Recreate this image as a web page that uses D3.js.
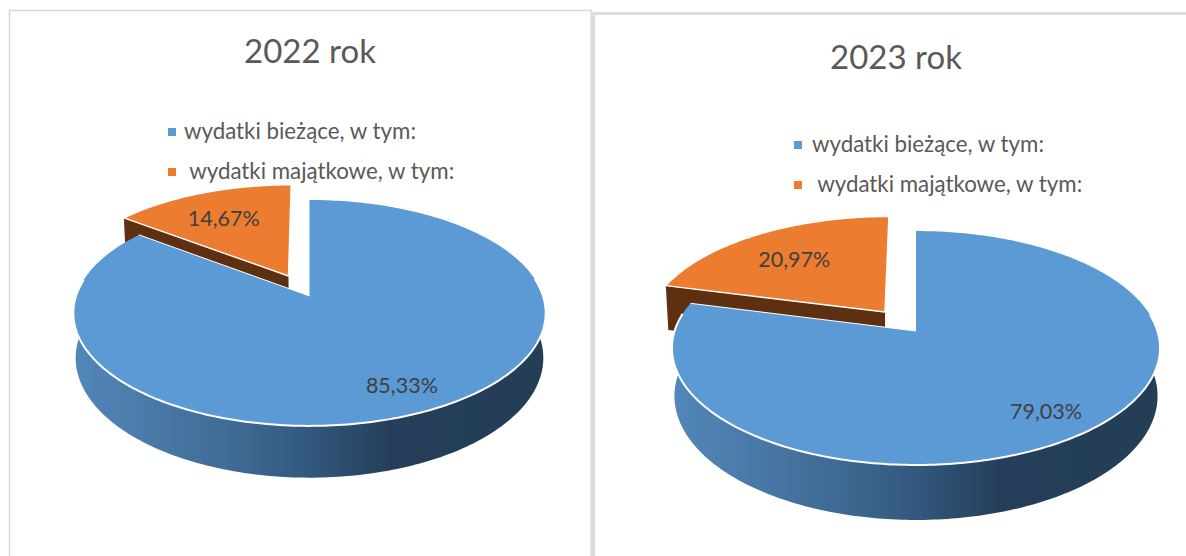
<!DOCTYPE html>
<html><head><meta charset="utf-8">
<script src="https://cdn.jsdelivr.net/npm/d3@7/dist/d3.min.js"></script>
<style>html,body{margin:0;padding:0;background:#fff;overflow:hidden}svg{display:block}text{font-family:Lato,"Open Sans",sans-serif}</style>
</head><body><svg id="c" width="1186" height="556"></svg>
<script>
const categories = ["wydatki bieżące, w tym:", " wydatki majątkowe, w tym:"];
const chartTitles = ["2022 rok", "2023 rok"];
const values2022 = [85.33, 14.67];
const values2023 = [79.03, 20.97];
const percentLabels2022 = ["85,33%", "14,67%"];
const percentLabels2023 = ["79,03%", "20,97%"];

const colors = ["#5b9ad5", "#eb7c30"];
const layouts = [
  {values: values2022, labels: percentLabels2022, title: chartTitles[0],
   cx: 309.5, apexY: 296, a: -66, k: -0.15, A: 233.5, h: 44, burst: 0.208,
   titleX: 310, titleY: 63, legX: 168, legTextX: 184, legY: [132, 172], labelF: [0.81, 0.66], labelDx: [-2, -5]},
  {values: values2023, labels: percentLabels2023, title: chartTitles[1],
   cx: 916, apexY: 331, a: -66.4, k: -0.1453, A: 241.4, h: 47, burst: 0.215,
   titleX: 896, titleY: 69, legX: 794, legTextX: 812, legY: [145, 185], labelF: [0.81, 0.646], labelDx: [-2, -6]}
];

const svg = d3.select("#c");
const defs = svg.append("defs");

// panels
svg.append("path").attr("d", "M9.5 556V10.5H591V556").attr("fill", "none").attr("stroke", "#d9d9d9").attr("stroke-width", 1.5);
svg.append("path").attr("d", "M593.5 556V13.5H1186").attr("fill", "none").attr("stroke", "#dcdcdc").attr("stroke-width", 3);

const pie = d3.pie().sort(null).startAngle(0).endAngle(2 * Math.PI);
const line = d3.line();

layouts.forEach((L, li) => {
  const g = svg.append("g");
  // perspective projection of the pie plane: (u,v) unit disk to screen
  const project = (u, v) => {
    const den = 1 - L.k * v;
    return [L.cx + L.A * u / den, (L.apexY + L.a * v) / den];
  };
  const lower = (u, v) => {
    const den = 1 - L.k * v;
    const p = project(u, v);
    return [L.cx + (p[0] - L.cx) * 0.99, p[1] + L.h / den];
  };
  const arcs = pie(L.values);
  const bis = arcs.map(d => (d.startAngle + d.endAngle) / 2);
  // slice 1 is exploded along its bisector
  const off = arcs.map((d, i) => i === 1
    ? [L.burst * Math.sin(bis[i]), L.burst * Math.cos(bis[i])] : [0, 0]);
  const rimUV = (d, i, n = 160) => d3.range(n + 1).map(j => {
    const t = d.startAngle + (d.endAngle - d.startAngle) * j / n;
    return [off[i][0] + Math.sin(t), off[i][1] + Math.cos(t)];
  });
  const apexUV = i => off[i];

  // brown cut face of the exploded slice (start edge)
  const or = arcs[1];
  const e0 = [off[1][0] + Math.sin(or.startAngle), off[1][1] + Math.cos(or.startAngle)];
  const ap = apexUV(1);
  g.append("path")
    .attr("d", line([project(...ap), project(...e0), lower(...e0), lower(...ap)]) + "Z")
    .attr("fill", "#5f2f11");
  // orange top
  g.append("path")
    .attr("d", line([project(...ap), ...rimUV(or, 1).map(p => project(...p))]) + "Z")
    .attr("fill", colors[1]).attr("stroke", "#fff").attr("stroke-width", 1.4).attr("stroke-linejoin", "round");

  // blue wall: only the front part of the rim
  const bl = arcs[0];
  const front = rimUV(bl, 0, 300).filter(p => p[1] < 0.16);
  const gid = "wall" + li;
  const xs = front.map(p => project(...p)[0]);
  const grad = defs.append("linearGradient").attr("id", gid).attr("gradientUnits", "userSpaceOnUse")
    .attr("x1", d3.min(xs)).attr("x2", d3.max(xs)).attr("y1", 0).attr("y2", 0);
  [[0, "#5387ba"], [0.33, "#3f6b94"], [0.5, "#33587e"], [0.67, "#253f5a"], [1, "#233e55"]]
    .forEach(s => grad.append("stop").attr("offset", s[0]).attr("stop-color", s[1]));
  g.append("path")
    .attr("d", line([...front.map(p => project(...p)), ...front.slice().reverse().map(p => lower(...p))]) + "Z")
    .attr("fill", `url(#${gid})`);
  // blue top
  g.append("path")
    .attr("d", line([project(...apexUV(0)), ...rimUV(bl, 0, 300).map(p => project(...p))]) + "Z")
    .attr("fill", colors[0]);
  // white edge: front rim and cut edge
  const backCut = rimUV(bl, 0, 300).filter(p => p[1] < 0.16);
  g.append("path").attr("d", line(backCut.map(p => project(...p))))
    .attr("fill", "none").attr("stroke", "#fff").attr("stroke-width", 2);
  const e1 = [Math.sin(bl.endAngle), Math.cos(bl.endAngle)];
  g.append("path").attr("d", line([project(...e1), project(0, 0)]))
    .attr("fill", "none").attr("stroke", "#fff").attr("stroke-width", 1);

  // title
  g.append("text").attr("x", L.titleX).attr("y", L.titleY).attr("text-anchor", "middle")
    .attr("font-size", 33).attr("fill", "#595959").text(L.title);
  // legend
  categories.forEach((c, i) => {
    g.append("rect").attr("x", L.legX).attr("y", L.legY[i] - 4).attr("width", 8).attr("height", 8).attr("fill", colors[i]);
    g.append("text").attr("x", L.legTextX).attr("y", L.legY[i] + 7).attr("font-size", 22.3)
      .attr("fill", "#595959").attr("xml:space", "preserve").style("white-space", "pre").text(c);
  });
  // percent labels
  arcs.forEach((d, i) => {
    const f = L.labelF[i];
    const p = project(off[i][0] + f * Math.sin(bis[i]), off[i][1] + f * Math.cos(bis[i]));
    g.append("text").attr("x", p[0] + L.labelDx[i]).attr("y", p[1] + 7).attr("text-anchor", "middle")
      .attr("font-size", 21.5).attr("fill", "#404040").text(L.labels[i]);
  });
});
</script></body></html>
